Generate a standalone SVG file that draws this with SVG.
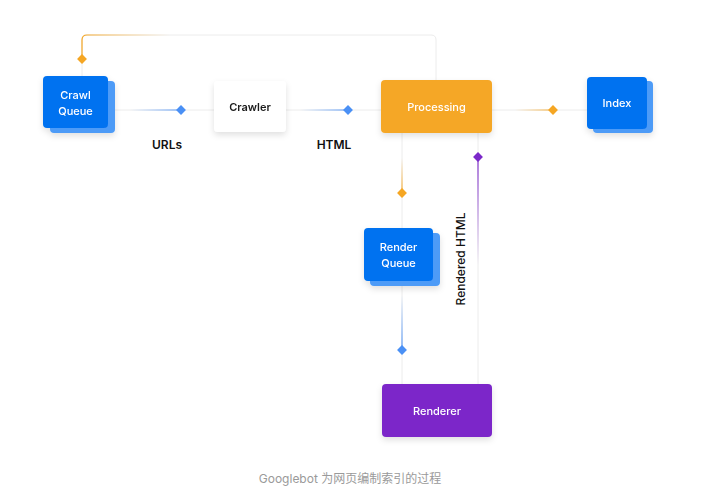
<svg xmlns="http://www.w3.org/2000/svg" width="723" height="496" viewBox="0 0 723 496">
<style>
.lbl{font-family:Inter,"Noto Sans",sans-serif;font-size:11px;font-weight:500;text-anchor:middle}
.w{fill:#ffffff}
.d{fill:#1a1a1a;font-weight:600}
.el{font-family:Inter,"Noto Sans",sans-serif;font-size:12px;font-weight:600;fill:#111111;text-anchor:middle}
.base{fill:none;stroke:#ececec;stroke-width:1}
.cap{font-family:Inter,"Noto Sans","Noto Sans CJK SC",sans-serif;font-size:12px;fill:#9a9a9a;text-anchor:middle}
</style>
<defs>
<filter id="sh" x="-30%" y="-30%" width="160%" height="170%">
<feDropShadow dx="0" dy="3" stdDeviation="3" flood-color="#000" flood-opacity="0.12"/>
</filter>
<linearGradient id="gO1" gradientUnits="userSpaceOnUse" x1="170" y1="0" x2="82" y2="0">
<stop offset="0" stop-color="#f5a623" stop-opacity="0"/><stop offset="1" stop-color="#f5a623"/>
</linearGradient>
<linearGradient id="gB1" gradientUnits="userSpaceOnUse" x1="130" y1="0" x2="181" y2="0">
<stop offset="0" stop-color="#4a90f5" stop-opacity="0"/><stop offset="1" stop-color="#4a90f5"/>
</linearGradient>
<linearGradient id="gB2" gradientUnits="userSpaceOnUse" x1="300" y1="0" x2="348" y2="0">
<stop offset="0" stop-color="#4a90f5" stop-opacity="0"/><stop offset="1" stop-color="#4a90f5"/>
</linearGradient>
<linearGradient id="gO2" gradientUnits="userSpaceOnUse" x1="515" y1="0" x2="553" y2="0">
<stop offset="0" stop-color="#f5a623" stop-opacity="0"/><stop offset="1" stop-color="#f5a623"/>
</linearGradient>
<linearGradient id="gO3" gradientUnits="userSpaceOnUse" x1="0" y1="158" x2="0" y2="193">
<stop offset="0" stop-color="#f5a623" stop-opacity="0"/><stop offset="1" stop-color="#f5a623"/>
</linearGradient>
<linearGradient id="gB3" gradientUnits="userSpaceOnUse" x1="0" y1="295" x2="0" y2="350">
<stop offset="0" stop-color="#4a90f5" stop-opacity="0"/><stop offset="1" stop-color="#4a90f5"/>
</linearGradient>
<linearGradient id="gP1" gradientUnits="userSpaceOnUse" x1="0" y1="265" x2="0" y2="157">
<stop offset="0" stop-color="#7b28c9" stop-opacity="0"/><stop offset="1" stop-color="#7b28c9"/>
</linearGradient>
</defs>
<rect width="723" height="496" fill="#ffffff"/>
<g id="connectors">
<path class="base" d="M436 80 V40 Q436 35 431 35 H87 Q82 35 82 40 V76"/>
<path d="M170 35 H87 Q82 35 82 40 V59" fill="none" stroke="url(#gO1)" stroke-width="1.2"/>
<rect x="78.5" y="55.5" width="7" height="7" transform="rotate(45 82 59)" fill="#f5a623"/>
<line class="base" x1="115" y1="110" x2="214" y2="110"/>
<line x1="130" y1="110" x2="181" y2="110" stroke="url(#gB1)" stroke-width="1.2"/>
<rect x="177.5" y="106.5" width="7" height="7" transform="rotate(45 181 110)" fill="#4a90f5"/>
<line class="base" x1="286" y1="110" x2="381" y2="110"/>
<line x1="300" y1="110" x2="348" y2="110" stroke="url(#gB2)" stroke-width="1.2"/>
<rect x="344.5" y="106.5" width="7" height="7" transform="rotate(45 348 110)" fill="#4a90f5"/>
<line class="base" x1="492" y1="110" x2="587" y2="110"/>
<line x1="515" y1="110" x2="553" y2="110" stroke="url(#gO2)" stroke-width="1.2"/>
<rect x="549.5" y="106.5" width="7" height="7" transform="rotate(45 553 110)" fill="#f5a623"/>
<line class="base" x1="402" y1="133" x2="402" y2="228"/>
<line x1="402" y1="158" x2="402" y2="193" stroke="url(#gO3)" stroke-width="1.2"/>
<rect x="398.5" y="189.5" width="7" height="7" transform="rotate(45 402 193)" fill="#f5a623"/>
<line class="base" x1="402" y1="286" x2="402" y2="384"/>
<line x1="402" y1="295" x2="402" y2="350" stroke="url(#gB3)" stroke-width="1.2"/>
<rect x="398.5" y="346.5" width="7" height="7" transform="rotate(45 402 350)" fill="#4a90f5"/>
<line class="base" x1="478" y1="133" x2="478" y2="384"/>
<line x1="478" y1="157" x2="478" y2="265" stroke="url(#gP1)" stroke-width="1.2"/>
<rect x="474.5" y="153.5" width="7" height="7" transform="rotate(45 478 157)" fill="#7b28c9"/>
<text class="el" x="167" y="149">URLs</text>
<text class="el" x="334" y="149">HTML</text>
<text class="el" style="font-weight:500" transform="translate(465 259) rotate(-90)">Rendered HTML</text>
</g>
<g id="crawl-queue" filter="url(#sh)">
<rect x="50" y="81" width="65" height="52" rx="4" fill="#4d9bf7"/>
<rect x="43" y="76" width="65" height="52" rx="4" fill="#0572f0"/>
<text class="lbl w" x="75.5" y="98.5">Crawl</text>
<text class="lbl w" x="75.5" y="114.5">Queue</text>
</g>
<g id="crawler" filter="url(#sh)">
<rect x="214" y="81" width="72" height="51" rx="4" fill="#ffffff"/>
<text class="lbl d" x="250" y="110.5">Crawler</text>
</g>
<g id="processing" filter="url(#sh)">
<rect x="381" y="80" width="111" height="53" rx="4" fill="#f5a728"/>
<text class="lbl w" x="436.5" y="110.5">Processing</text>
</g>
<g id="index" filter="url(#sh)">
<rect x="593" y="81" width="60" height="52" rx="4" fill="#4d9bf7"/>
<rect x="587" y="77" width="60" height="52" rx="4" fill="#0572f0"/>
<text class="lbl w" x="617" y="106.5">Index</text>
</g>
<g id="render-queue" filter="url(#sh)">
<rect x="370" y="233" width="70" height="53" rx="4" fill="#4d9bf7"/>
<rect x="364" y="228" width="69" height="53" rx="4" fill="#0572f0"/>
<text class="lbl w" x="398.5" y="250.5">Render</text>
<text class="lbl w" x="398.5" y="266.5">Queue</text>
</g>
<g id="renderer" filter="url(#sh)">
<rect x="382" y="384" width="110" height="53" rx="4" fill="#7b28c9"/>
<text class="lbl w" x="437" y="414.5">Renderer</text>
</g>
<text class="cap" x="350" y="483">Googlebot 为网页编制索引的过程</text>
</svg>
